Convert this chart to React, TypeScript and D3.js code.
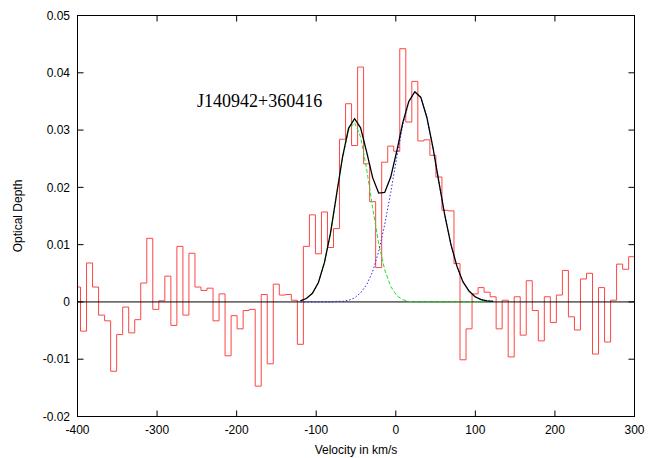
import React from "react";
import * as d3 from "d3";

// channel grid of the spectrum (km/s)
const channelStart = -400;
const channelWidth = 7.57;

// optical depth per channel
const opticalDepth = [
  0.0026, -0.0051, 0.0068, 0.0026, -0.0023, -0.0033, -0.0121, -0.0057, -0.0009, -0.0054,
  -0.0031, 0.0033, 0.0111, -0.0013, 0.0002, 0.0045, -0.0041, 0.0097, -0.0023, 0.0085,
  0.0026, 0.002, 0.0024, -0.0033, 0.0014, -0.0094, -0.0024, -0.0047, -0.0015, -0.0013,
  -0.0147, 0.0013, -0.0108, 0.0031, 0.0012, 0.0013, 0.0003, -0.0074, 0.0097, 0.0152,
  0.0084, 0.0157, 0.0095, 0.0128, 0.0284, 0.0346, 0.0273, 0.041, 0.0241, 0.0175,
  0.006, 0.0244, 0.0272, 0.0263, 0.0442, 0.0314, 0.0385, 0.0281, 0.0283, 0.0256,
  0.0218, 0.016, 0.0159, 0.0067, -0.0101, -0.0047, 0.0014, 0.0025, 0.0017, 0.0009,
  -0.0047, 0.0003, -0.0096, 0.0009, -0.0058, 0.0037, -0.0015, -0.0068, 0.0009, -0.0036,
  0.0012, 0.0055, -0.0026, -0.0049, 0.004, 0.005, -0.0091, 0.0025, -0.007, 0.0003,
  0.0066, 0.0057, 0.0079,
];

// gaussian fit components, sampled at channels starting at fitStartChannel
const fitStartChannel = 37;
const fitComponentA = [
  0.0002, 0.0006, 0.0015, 0.0034, 0.0069, 0.012, 0.0186, 0.0252, 0.03, 0.0313,
  0.0288, 0.0232, 0.0164, 0.0102, 0.0056, 0.0027, 0.0011, 0.0004, 0.0001, 0, 0,
  0, 0, 0, 0, 0, 0, 0, 0, 0, 0, 0, 0,
];
const fitComponentB = [
  0, 0, 0, 0, 0, 0, 0.0001, 0.0001, 0.0003, 0.0007,
  0.0016, 0.003, 0.0053, 0.0088, 0.0135, 0.0191, 0.0252, 0.0309, 0.0349, 0.0367,
  0.0357, 0.0322, 0.027, 0.0209, 0.015, 0.01, 0.0062, 0.0035, 0.0019, 0.0009,
  0.0004, 0.0002, 0.0001,
];

const xTicks = [-400, -300, -200, -100, 0, 100, 200, 300];
const yTicks = [-0.02, -0.01, 0, 0.01, 0.02, 0.03, 0.04, 0.05];
const yTickLabels = ["-0.02", "-0.01", "0", "0.01", "0.02", "0.03", "0.04", "0.05"];

const W = 654;
const H = 458;
const margin = { top: 15.5, right: 19.5, bottom: 41.5, left: 77.5 };
const sans = "'Liberation Sans', Arial, Helvetica, sans-serif";

export default function App() {
  const x = d3
    .scaleLinear()
    .domain([-400, 300])
    .range([margin.left, W - margin.right]);
  const y = d3
    .scaleLinear()
    .domain([-0.02, 0.05])
    .range([H - margin.bottom, margin.top]);

  const vel = (i: number) => channelStart + i * channelWidth;

  // histogram steps: left and right edge of every channel
  const steps: [number, number][] = [];
  opticalDepth.forEach((d, i) => {
    steps.push([vel(i) - channelWidth / 2, d]);
    steps.push([vel(i) + channelWidth / 2, d]);
  });

  const line = d3
    .line<[number, number]>()
    .x((d) => x(d[0]))
    .y((d) => y(d[1]));

  const compA = fitComponentA.map((d, i) => [vel(fitStartChannel + i), d] as [number, number]);
  const compB = fitComponentB.map((d, i) => [vel(fitStartChannel + i), d] as [number, number]);
  const total = fitComponentA.map(
    (d, i) => [vel(fitStartChannel + i), d + fitComponentB[i]] as [number, number]
  );

  const x0 = margin.left;
  const x1 = W - margin.right;
  const y0 = margin.top;
  const y1 = H - margin.bottom;
  const tick = 6;

  return (
    <div style={{ position: "absolute", left: 0, top: 0 }}>
      <svg width={W} height={H} style={{ display: "block", background: "#fff" }}>
        <defs>
          <clipPath id="plot">
            <rect x={x0} y={y0} width={x1 - x0} height={y1 - y0} />
          </clipPath>
        </defs>

        <g clipPath="url(#plot)">
          <path d={line(steps) ?? ""} fill="none" stroke="#ff4545" strokeWidth={1} />
          <line x1={x0} x2={x1} y1={y(0)} y2={y(0)} stroke="#000" strokeWidth={1} />
          <path
            d={line(compA) ?? ""}
            fill="none"
            stroke="#22e022"
            strokeWidth={1}
            strokeDasharray="4,2"
          />
          <path
            d={line(compB) ?? ""}
            fill="none"
            stroke="#2525ff"
            strokeWidth={1}
            strokeDasharray="1.5,2"
          />
          <path d={line(total) ?? ""} fill="none" stroke="#000" strokeWidth={1.3} />
        </g>

        {/* frame */}
        <rect x={x0} y={y0} width={x1 - x0} height={y1 - y0} fill="none" stroke="#000" strokeWidth={1} />

        {xTicks.map((t) => (
          <g key={"x" + t}>
            <line x1={x(t)} x2={x(t)} y1={y1} y2={y1 - tick} stroke="#000" />
            <line x1={x(t)} x2={x(t)} y1={y0} y2={y0 + tick} stroke="#000" />
            <text x={x(t)} y={y1 + 17} textAnchor="middle" fontFamily={sans} fontSize={12}>
              {t}
            </text>
          </g>
        ))}

        {yTicks.map((t, i) => (
          <g key={"y" + t}>
            <line x1={x0} x2={x0 + tick} y1={y(t)} y2={y(t)} stroke="#000" />
            <line x1={x1} x2={x1 - tick} y1={y(t)} y2={y(t)} stroke="#000" />
            <text x={x0 - 7.5} y={y(t)} dy="0.35em" textAnchor="end" fontFamily={sans} fontSize={12}>
              {yTickLabels[i]}
            </text>
          </g>
        ))}

        <text x={(x0 + x1) / 2} y={H - 4} textAnchor="middle" fontFamily={sans} fontSize={12}>
          Velocity in km/s
        </text>
        <text
          transform={`translate(22,${(y0 + y1) / 2}) rotate(-90)`}
          textAnchor="middle"
          fontFamily={sans}
          fontSize={12}
        >
          Optical Depth
        </text>

        <text x={197} y={106.5} fontFamily="'Liberation Serif', 'Times New Roman', serif" fontSize={18}>
          J140942+360416
        </text>
      </svg>
    </div>
  );
}
